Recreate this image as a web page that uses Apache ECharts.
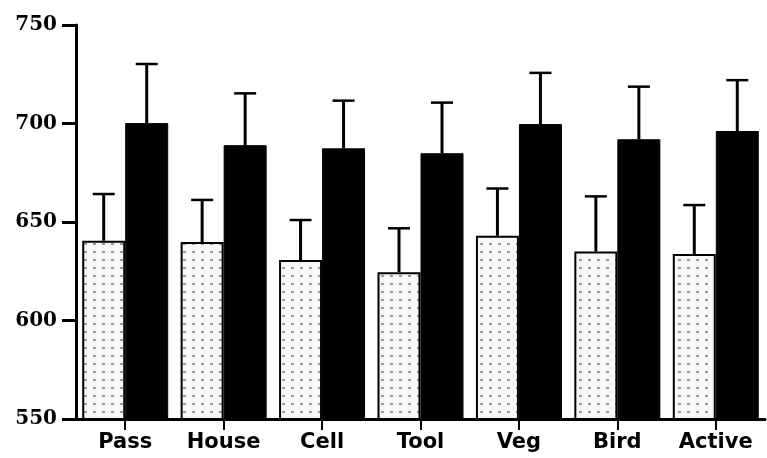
<!DOCTYPE html>
<html>
<head>
<meta charset="utf-8">
<script src="https://cdn.jsdelivr.net/npm/echarts@6/dist/echarts.min.js"></script>
<style>
html,body{margin:0;padding:0;background:#fff;}
#chart{width:767px;height:458px;}
</style>
</head>
<body>
<div id="chart"></div>
<script>
// ---- data ----
var categories = ['Pass', 'House', 'Cell', 'Tool', 'Veg', 'Bird', 'Active'];
var lightMeans = [640.5, 639.8, 630.7, 624.5, 643.0, 635.0, 633.8];
var lightErrors = [23.7, 21.4, 20.3, 22.3, 24.0, 28.0, 24.8];
var darkMeans = [700.2, 689.0, 687.4, 684.9, 699.7, 692.0, 696.2];
var darkErrors = [30.0, 26.3, 24.2, 25.7, 26.0, 26.7, 25.8];
var yTicks = [550, 600, 650, 700, 750];

// ---- dotted fill pattern ----
function makePattern() {
  var c = document.createElement('canvas');
  c.width = 9; c.height = 8;
  var g = c.getContext('2d');
  g.fillStyle = '#f7f7f7';
  g.fillRect(0, 0, 9, 8);
  g.fillStyle = '#9a9a9a';
  g.fillRect(3, 3, 3, 2);
  return c;
}

var BAR_W = 43;

function errSeries(means, errs, offset) {
  var data = means.map(function (m, i) { return [i, m, m + errs[i]]; });
  return {
    type: 'custom',
    z: 5,
    silent: true,
    data: data,
    encode: { x: 0, y: [1, 2] },
    renderItem: function (params, api) {
      var i = api.value(0);
      var base = api.coord([i, api.value(1)]);
      var top = api.coord([i, api.value(2)]);
      var x = base[0] + offset;
      var half = 11;
      return {
        type: 'group',
        children: [
          { type: 'line', shape: { x1: x, y1: base[1], x2: x, y2: top[1] },
            style: { stroke: '#000', lineWidth: 3 } },
          { type: 'line', shape: { x1: x - half, y1: top[1], x2: x + half, y2: top[1] },
            style: { stroke: '#000', lineWidth: 2.5 } }
        ]
      };
    }
  };
}

var chart = echarts.init(document.getElementById('chart'), null, { renderer: 'canvas' });
chart.setOption({
  animation: false,
  backgroundColor: '#fff',
  grid: { left: 76, right: 2, top: 25, bottom: 39, containLabel: false },
  xAxis: {
    type: 'category',
    data: categories,
    boundaryGap: true,
    axisLine: { show: true, lineStyle: { color: '#000', width: 3 } },
    axisTick: { show: true, alignWithLabel: true, length: 11, lineStyle: { color: '#000', width: 2 } },
    axisLabel: {
      color: '#000', fontFamily: 'DejaVu Sans', fontWeight: 'bold', fontSize: 21, margin: 13
    },
    splitLine: { show: false }
  },
  yAxis: {
    type: 'value',
    min: yTicks[0],
    max: yTicks[yTicks.length - 1],
    interval: 50,
    axisLine: { show: true, lineStyle: { color: '#000', width: 3 } },
    axisTick: { show: true, length: 14, lineStyle: { color: '#000', width: 3 } },
    axisLabel: {
      color: '#000', fontFamily: 'DejaVu Serif', fontWeight: 'bold', fontSize: 20, margin: 19
    },
    splitLine: { show: false }
  },
  series: [
    {
      type: 'bar',
      data: lightMeans,
      barWidth: BAR_W,
      barGap: '0%',
      z: 2,
      itemStyle: {
        color: { image: makePattern(), repeat: 'repeat' },
        borderColor: '#000',
        borderWidth: 2
      }
    },
    {
      type: 'bar',
      data: darkMeans,
      barWidth: BAR_W,
      barGap: '0%',
      z: 2,
      itemStyle: { color: '#000', borderColor: '#000', borderWidth: 1 }
    },
    errSeries(lightMeans, lightErrors, -BAR_W / 2),
    errSeries(darkMeans, darkErrors, BAR_W / 2)
  ]
});
</script>
</body>
</html>
